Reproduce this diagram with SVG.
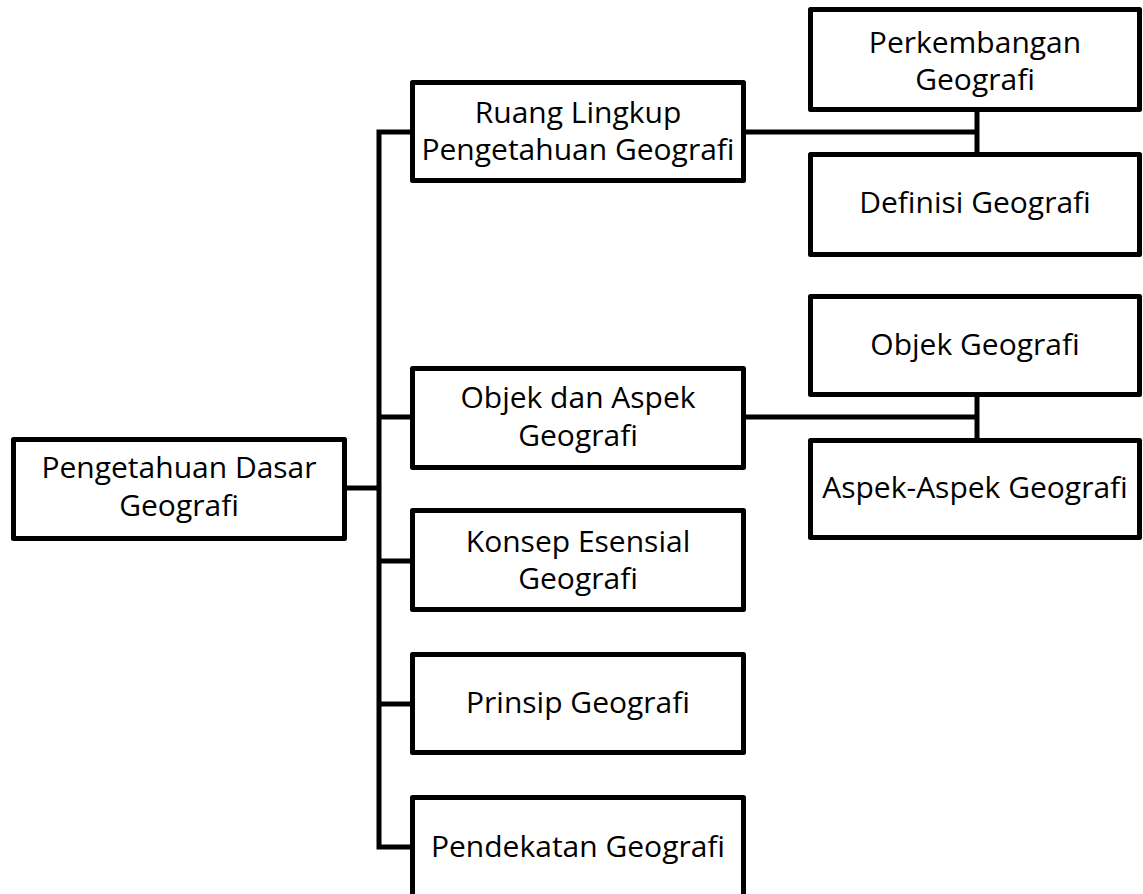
<svg xmlns="http://www.w3.org/2000/svg" width="1143" height="894" viewBox="0 0 1143 894">
<style>
.box{fill:#fff;stroke:#000;stroke-width:5;stroke-linejoin:round}
.ln{fill:none;stroke:#000;stroke-width:5}
text{font-family:"Open Sans","Noto Sans",sans-serif;font-size:30px;fill:#000;text-anchor:middle}
</style>
<rect width="1143" height="894" fill="#fff"/>
<g id="connectors">
<path class="ln" d="M412 132 H379 V847 H412"/>
<path class="ln" d="M347 488 H379"/>
<path class="ln" d="M379 417 H412"/>
<path class="ln" d="M379 561 H412"/>
<path class="ln" d="M379 704 H412"/>
<path class="ln" d="M746 132 H977"/>
<path class="ln" d="M977 112 V152"/>
<path class="ln" d="M746 417 H977"/>
<path class="ln" d="M977 397 V438"/>
</g>
<g id="n-main"><rect class="box" x="13.5" y="439.5" width="331" height="99"/><text x="179" y="478">Pengetahuan Dasar</text><text x="179" y="516">Geografi</text></g>
<g id="n-ruang"><rect class="box" x="412.5" y="82.5" width="331" height="98"/><text x="578" y="123">Ruang Lingkup</text><text x="578" y="160">Pengetahuan Geografi</text></g>
<g id="n-objekaspek"><rect class="box" x="412.5" y="368.5" width="331" height="99"/><text x="578" y="408">Objek dan Aspek</text><text x="578" y="446">Geografi</text></g>
<g id="n-konsep"><rect class="box" x="412.5" y="510.5" width="331" height="99"/><text x="578" y="552">Konsep Esensial</text><text x="578" y="589">Geografi</text></g>
<g id="n-prinsip"><rect class="box" x="412.5" y="654.5" width="331" height="98"/><text x="578" y="713">Prinsip Geografi</text></g>
<g id="n-pendekatan"><rect class="box" x="412.5" y="797.5" width="331" height="99"/><text x="578" y="857">Pendekatan Geografi</text></g>
<g id="n-perkembangan"><rect class="box" x="810.5" y="9.5" width="329" height="100"/><text x="975" y="53">Perkembangan</text><text x="975" y="90">Geografi</text></g>
<g id="n-definisi"><rect class="box" x="810.5" y="154.5" width="329" height="100"/><text x="975" y="213">Definisi Geografi</text></g>
<g id="n-objek"><rect class="box" x="810.5" y="296.5" width="329" height="98"/><text x="975" y="355">Objek Geografi</text></g>
<g id="n-aspek"><rect class="box" x="810.5" y="440.5" width="329" height="97"/><text x="975" y="498">Aspek-Aspek Geografi</text></g>
</svg>
